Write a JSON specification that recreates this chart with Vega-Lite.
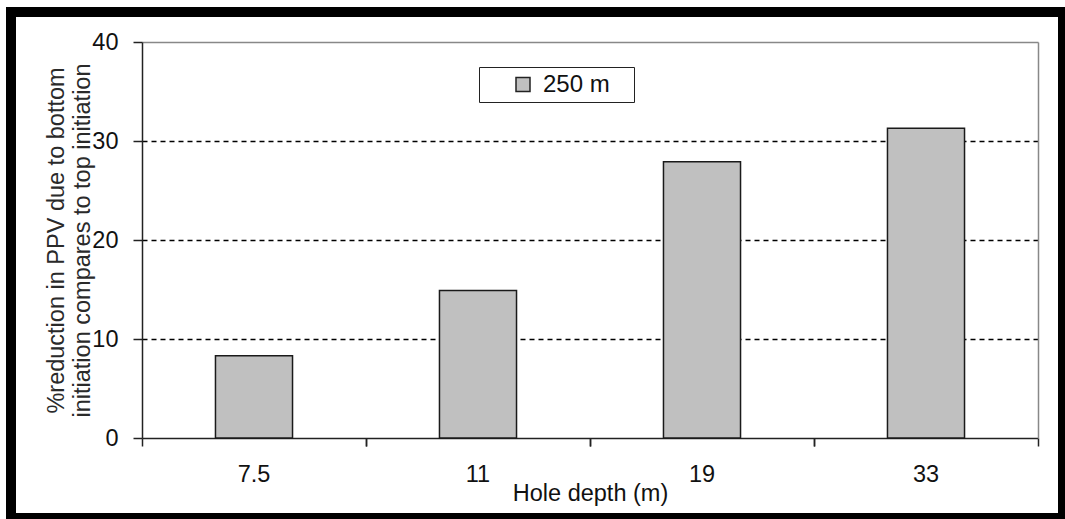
{
  "$schema": "https://vega.github.io/schema/vega-lite/v6.json",
  "autosize": {"type": "none"},
  "padding": {"left": 11, "top": 12, "right": 2, "bottom": 1},
  "width": 1052,
  "height": 506,
  "background": "white",
  "config": {
    "view": {"stroke": "black", "strokeWidth": 10, "fill": "white"},
    "font": "Liberation Sans",
    "axis": {"labelFont": "Liberation Sans", "titleFont": "Liberation Sans", "titleFontWeight": "normal", "labelColor": "#111", "titleColor": "#111"}
  },
  "data": {
    "values": [
      {"depth": "7.5", "reduction": 8.3, "series": "250 m"},
      {"depth": "11", "reduction": 14.9, "series": "250 m"},
      {"depth": "19", "reduction": 27.9, "series": "250 m"},
      {"depth": "33", "reduction": 31.3, "series": "250 m"}
    ]
  },
  "layer": [
    {
      "mark": {"type": "bar", "width": {"band": 0.344}, "stroke": "#1a1a1a", "strokeWidth": 1.5},
      "encoding": {
        "x": {
          "field": "depth", "type": "nominal", "sort": null,
          "scale": {"range": [131, 1027], "paddingInner": 0, "paddingOuter": 0},
          "axis": {
            "title": "Hole depth (m)", "titleFontSize": 23.5, "titleX": 579, "titleY": 62,
            "titleBaseline": "alphabetic", "titleAnchor": null, "titleAlign": "center",
            "labelAngle": 0, "labelFontSize": 23.5, "labelPadding": 16, "labelBaseline": "top",
            "tickSize": 8, "tickColor": "#222", "tickWidth": 1.5, "bandPosition": 0,
            "domainColor": "#222", "domainWidth": 1.5, "offset": -80, "grid": false
          }
        },
        "y": {
          "field": "reduction", "type": "quantitative",
          "scale": {"domain": [0, 40], "range": [426, 30], "nice": false, "zero": true},
          "axis": {
            "values": [0, 10, 20, 30, 40],
            "title": ["%reduction in PPV due to bottom", "initiation compares to top initiation"],
            "titleFontSize": 23.5, "titleLineHeight": 26, "titleAngle": -90, "titleColor": "#2a2a2a",
            "titleX": -79, "titleY": 228, "titleBaseline": "alphabetic", "titleAlign": "center", "titleAnchor": null,
            "labelFontSize": 23.5, "labelPadding": 15, "tickSize": 9, "tickColor": "#222", "tickWidth": 1.5,
            "domainColor": "#222", "domainWidth": 1.5, "offset": -131,
            "grid": true,
            "gridColor": {"condition": {"test": "datum.value === 40", "value": "#888888"}, "value": "#000000"},
            "gridDash": {"condition": {"test": "datum.value === 40", "value": []}, "value": [5, 4]},
            "gridWidth": 1.5,
            "gridOpacity": {"condition": {"test": "datum.value === 0", "value": 0}, "value": 1}
          }
        },
        "color": {
          "field": "series", "type": "nominal",
          "scale": {"range": ["#c0c0c0"]},
          "legend": {
            "orient": "none", "legendX": 468, "legendY": 55, "title": null,
            "strokeColor": "#222", "padding": 5.5, "fillColor": "white",
            "symbolType": "square", "symbolSize": 196, "symbolStrokeColor": "#222", "symbolStrokeWidth": 1.5,
            "symbolFillColor": "#c0c0c0", "symbolOffset": 26.5,
            "labelFontSize": 24, "labelFont": "Liberation Sans", "labelColor": "#111", "labelOffset": 8,
            "labelExpr": "datum.label + '\\u2800'"
          }
        }
      }
    },
    {
      "mark": {"type": "bar", "opacity": 0},
      "encoding": {
        "x": {
          "field": "depth", "type": "nominal", "sort": null,
          "axis": {"orient": "bottom", "bandPosition": 1, "labels": false, "domain": false, "title": null, "tickSize": 8, "tickColor": "#222", "tickWidth": 1.5, "offset": -80, "grid": false}
        },
        "y": {
          "field": "reduction", "type": "quantitative",
          "axis": {"orient": "right", "offset": -25, "labels": false, "ticks": false, "grid": false, "title": null, "domainColor": "#888888", "domainWidth": 1.5}
        }
      }
    }
  ],
  "resolve": {"axis": {"y": "independent", "x": "independent"}}
}
